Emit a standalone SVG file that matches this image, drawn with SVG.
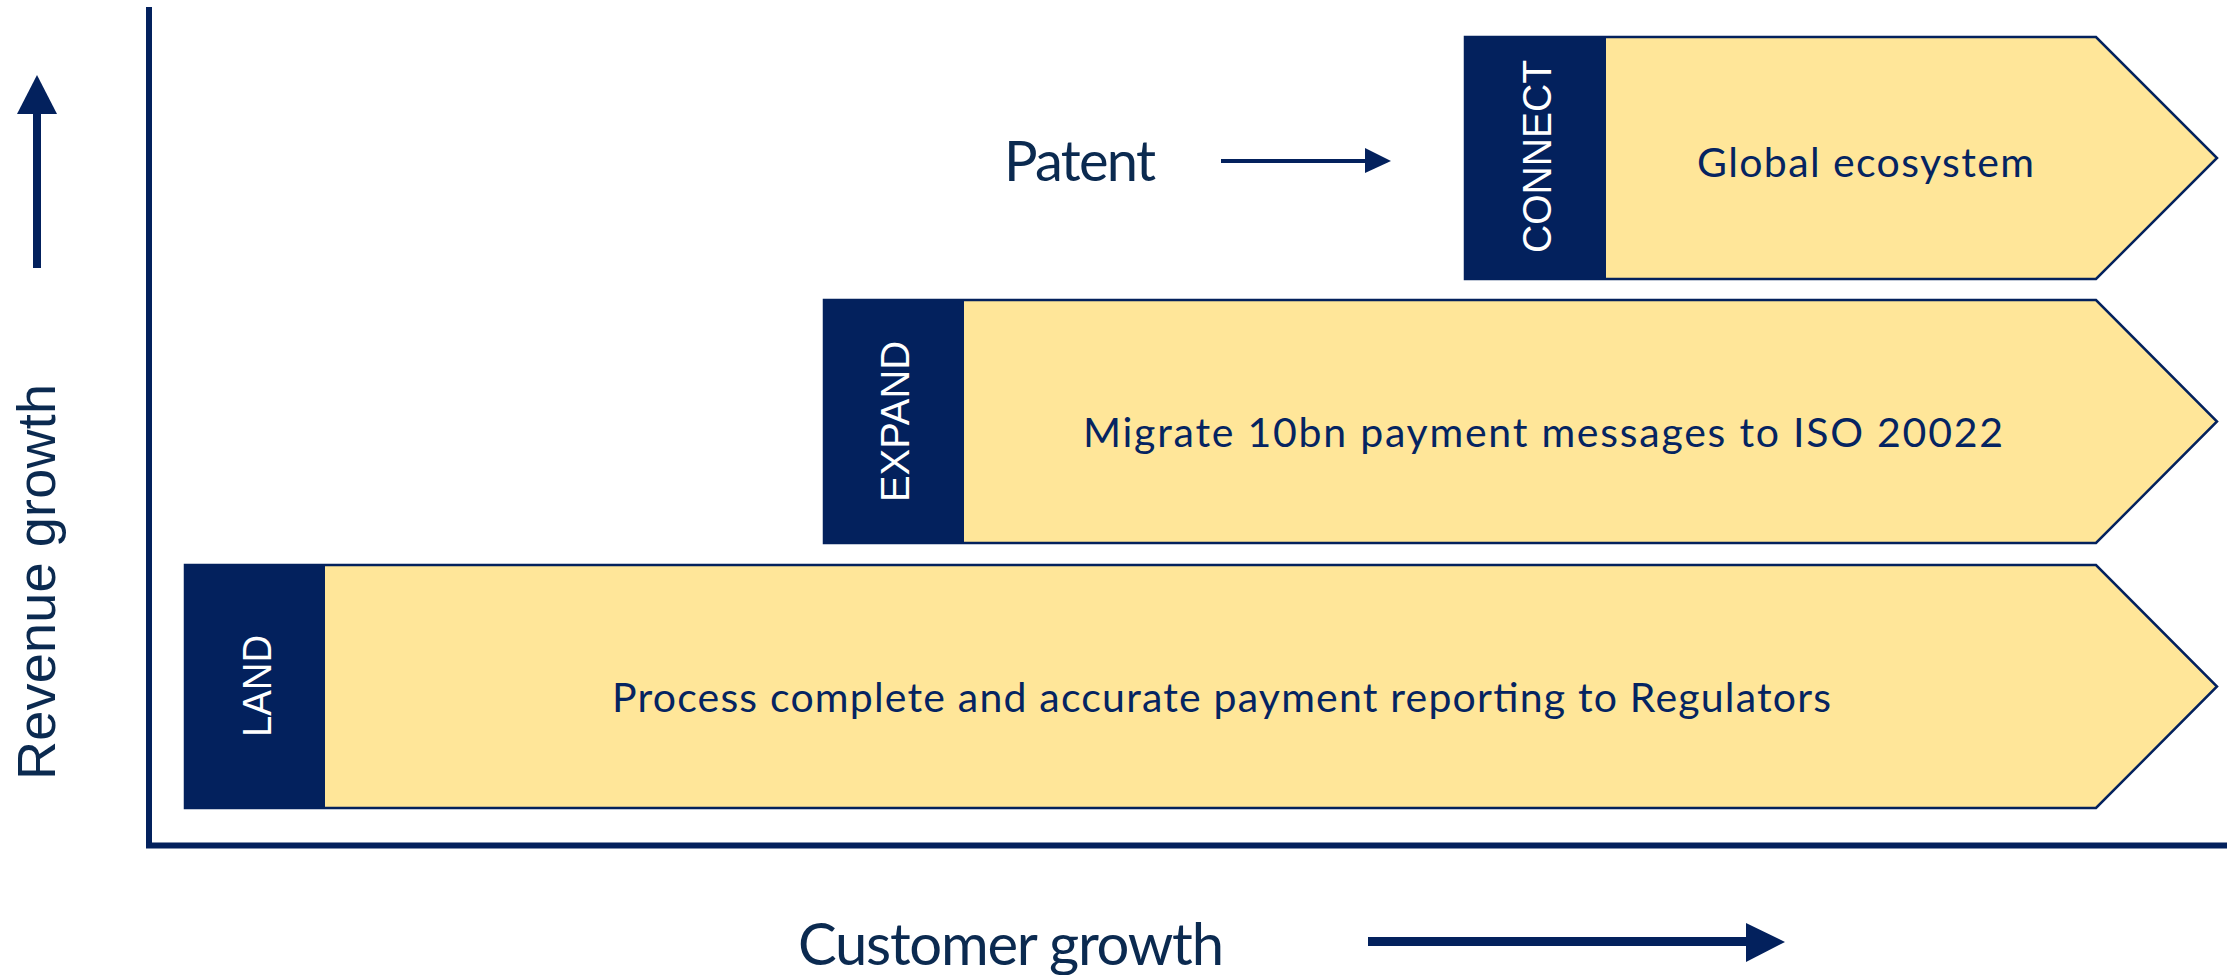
<svg xmlns="http://www.w3.org/2000/svg" width="2231" height="975" viewBox="0 0 2231 975">
<style>
.chev{fill:#FFE699;stroke:#03215D;stroke-width:2.5;stroke-linejoin:miter}
.tab{fill:#03215D}
.tabtxt{font-family:"Liberation Sans",Arial,sans-serif;font-size:41px;fill:#FFFFFF}
.boxtxt{font-family:Lato,"Noto Sans",sans-serif;font-size:41px;fill:#052461}
.axtxt{font-family:Lato,"Noto Sans",sans-serif;fill:#0B2A50}
.ax{stroke:#03215D;fill:none}
.head{fill:#03215D}
</style>
<rect width="2231" height="975" fill="#FFFFFF"/>
<g id="connectors">
<line class="ax" x1="149" y1="7" x2="149" y2="848" stroke-width="6"/>
<line class="ax" x1="146" y1="845.5" x2="2227" y2="845.5" stroke-width="6"/>
<line class="ax" x1="37" y1="268" x2="37" y2="112" stroke-width="8"/>
<polygon class="head" points="17,114 57,114 37,75"/>
<line class="ax" x1="1368" y1="941.5" x2="1748" y2="941.5" stroke-width="9"/>
<polygon class="head" points="1746,923 1785,942 1746,962"/>
<line class="ax" x1="1221" y1="161" x2="1367" y2="161" stroke-width="4"/>
<polygon class="head" points="1365,148 1391,161 1365,173"/>
</g>
<g id="revenue-growth">
<text class="axtxt" font-family="Liberation Sans, Arial, sans-serif" style="font-family:'Liberation Sans',Arial,sans-serif" font-size="54" transform="translate(55,780) rotate(-90)" textLength="396">Revenue growth</text>
</g>
<g id="customer-growth">
<text class="axtxt" font-size="58" x="798" y="965" textLength="426">Customer growth</text>
</g>
<g id="patent">
<text class="axtxt" font-size="56" x="1004" y="181" textLength="152">Patent</text>
</g>
<g id="connect">
<polygon class="chev" points="1465,37 2096,37 2217,158 2096,279 1465,279"/>
<rect class="tab" x="1465" y="36" width="141" height="244"/>
<text class="tabtxt" transform="translate(1551,156.5) rotate(-90)" text-anchor="middle" textLength="193" lengthAdjust="spacingAndGlyphs">CONNECT</text>
<text class="boxtxt" x="1697" y="177" textLength="337">Global ecosystem</text>
</g>
<g id="expand">
<polygon class="chev" points="824,300 2096,300 2217,421.5 2096,543 824,543"/>
<rect class="tab" x="824" y="299" width="140" height="245"/>
<text class="tabtxt" transform="translate(909,421.5) rotate(-90)" text-anchor="middle" textLength="161" lengthAdjust="spacingAndGlyphs">EXPAND</text>
<text class="boxtxt" x="1083" y="447" textLength="920">Migrate 10bn payment messages to ISO 20022</text>
</g>
<g id="land">
<polygon class="chev" points="185,565 2096,565 2217,686.5 2096,808 185,808"/>
<rect class="tab" x="185" y="564" width="140" height="245"/>
<text class="tabtxt" transform="translate(271,686) rotate(-90)" text-anchor="middle" textLength="102" lengthAdjust="spacingAndGlyphs">LAND</text>
<text class="boxtxt" x="612" y="712" textLength="1219">Process complete and accurate payment reporting to Regulators</text>
</g>
</svg>
